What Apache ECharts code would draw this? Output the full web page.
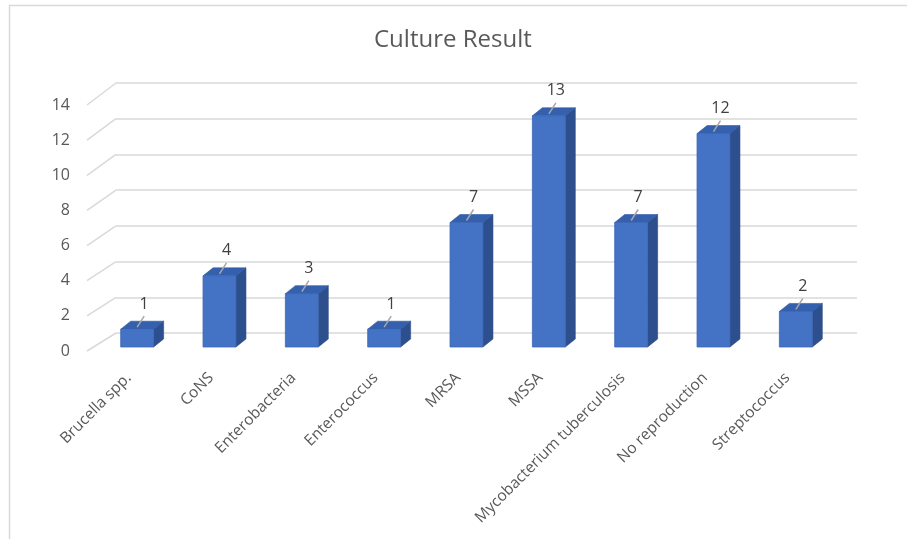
<!DOCTYPE html>
<html>
<head>
<meta charset="utf-8">
<script src="https://cdn.jsdelivr.net/npm/echarts@6/dist/echarts.min.js"></script>
<style>
html,body{margin:0;padding:0;background:#fff;}
#chart{width:907px;height:539px;}
</style>
</head>
<body>
<div id="chart"></div>
<script>
const categories = ['Brucella spp.', 'CoNS', 'Enterobacteria', 'Enterococcus', 'MRSA', 'MSSA', 'Mycobacterium tuberculosis', 'No reproduction', 'Streptococcus'];
const counts = [1, 4, 3, 1, 7, 13, 7, 12, 2];
const yTicks = [0, 2, 4, 6, 8, 10, 12, 14];
const titleText = 'Culture Result';

const FONT = '"Open Sans", "Liberation Sans", sans-serif';
const DEPTH_X = 10, DEPTH_Y = -8;

function renderBar(params, api) {
  const i = api.value(0), v = api.value(1);
  const base = api.coord([i, 0]);
  const top = api.coord([i, v]);
  const w = api.size([1, 0])[0] * 0.4;
  const x0 = base[0] - w / 2, x1 = base[0] + w / 2;
  const ty = top[1], by = base[1];
  return {
    type: 'group',
    children: [
      { type: 'polygon', shape: { points: [[x1, ty], [x1 + DEPTH_X, ty + DEPTH_Y], [x1 + DEPTH_X, by + DEPTH_Y], [x1, by]] },
        style: { fill: '#2E4F8D', stroke: '#2A4A85', lineWidth: 0.6 } },
      { type: 'polygon', shape: { points: [[x0, ty], [x0 + DEPTH_X, ty + DEPTH_Y], [x1 + DEPTH_X, ty + DEPTH_Y], [x1, ty]] },
        style: { fill: '#3560AE', stroke: '#2F579F', lineWidth: 0.6 } },
      { type: 'rect', shape: { x: x0, y: ty, width: w, height: by - ty },
        style: { fill: '#4472C4', stroke: '#3B66B4', lineWidth: 0.8 } },
      { type: 'line', shape: { x1: base[0], y1: ty - 2, x2: base[0] + 7, y2: ty - 13 },
        style: { stroke: '#A6A6A6', lineWidth: 1.5 } },
      { type: 'text', style: { text: String(v), x: base[0] + 7, y: ty - 25, align: 'center', verticalAlign: 'middle',
        fill: '#404040', font: '16px ' + FONT } }
    ]
  };
}

const chart = echarts.init(document.getElementById('chart'), null, { renderer: 'canvas' });

const option = {
  backgroundColor: '#ffffff',
  animation: false,
  title: {
    text: titleText, left: 369, top: 23,
    textStyle: { fontFamily: FONT, fontSize: 24, fontWeight: 'normal', color: '#595959' }
  },
  grid: [
    { left: 96, right: 70, top: 98, bottom: 192 },   // bars (front plane of bars)
    { left: 87, width: 1, top: 105, bottom: 188 },    // front edge for y labels
    { left: 116, right: 50, top: 83, bottom: 206 }    // back wall
  ],
  xAxis: [
    { type: 'category', gridIndex: 0, data: categories,
      axisLine: { show: false }, axisTick: { show: false },
      axisLabel: { rotate: 45, interval: 0, margin: 20, padding: [0, 12, 0, 0], color: '#595959', fontSize: 15.5, fontFamily: FONT } },
    { type: 'value', gridIndex: 1, min: 0, max: 1, show: false },
    { type: 'value', gridIndex: 2, min: 0, max: 1, show: false }
  ],
  yAxis: [
    { type: 'value', gridIndex: 0, min: 0, max: 14, interval: 2, show: false },
    { type: 'value', gridIndex: 1, min: 0, max: 14, interval: 2,
      axisLine: { show: false }, axisTick: { show: false }, splitLine: { show: false },
      axisLabel: { margin: 17, color: '#595959', fontSize: 16, fontFamily: FONT } },
    { type: 'value', gridIndex: 2, min: 0, max: 14, interval: 2,
      axisLine: { show: false }, axisTick: { show: false }, axisLabel: { show: false },
      splitLine: { show: true, lineStyle: { color: '#D9D9D9', width: 1.5 } } }
  ],
  series: [
    { type: 'custom', xAxisIndex: 0, yAxisIndex: 0, z: 5,
      renderItem: renderBar,
      data: counts.map((c, i) => [i, c]) }
  ]
};
chart.setOption(option);

// side-wall diagonals: connect front edge ticks to back wall ticks using the axes' scales
const diag = yTicks.map(v => {
  const f = chart.convertToPixel({ xAxisIndex: 1, yAxisIndex: 1 }, [0, v]);
  const b = chart.convertToPixel({ xAxisIndex: 2, yAxisIndex: 2 }, [0, v]);
  return { type: 'line', z: -1, shape: { x1: f[0], y1: f[1], x2: b[0], y2: b[1] },
    style: { stroke: '#D9D9D9', lineWidth: 1.5 } };
});
diag.push({ type: 'rect', z: -1, shape: { x: 9.5, y: 5.5, width: 1000, height: 1000 },
  style: { fill: 'none', stroke: '#D9D9D9', lineWidth: 1.5 } });
chart.setOption({ graphic: diag });
</script>
</body>
</html>
